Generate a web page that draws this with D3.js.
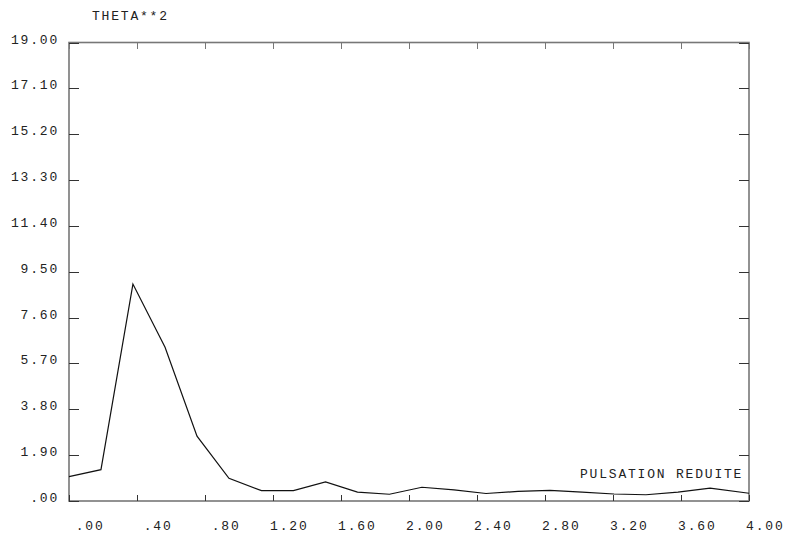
<!DOCTYPE html>
<html lang="en">
<head>
<meta charset="utf-8">
<script src="https://d3js.org/d3.v7.min.js"></script>
<style>
  body { margin: 0; background: #ffffff; }
  text { font-family: "Liberation Mono", "Courier New", monospace; font-size: 13px; letter-spacing: 1.8px; fill: #222; }
  .axis path, .axis line { fill: none; stroke: #777; shape-rendering: crispEdges; }
  .inner line { stroke: #333; }
</style>
</head>
<body>
<script>
// reduced pulsation (x) and THETA**2 (y)
var pulsation = [0, 0.188, 0.376, 0.565, 0.753, 0.941, 1.132, 1.320, 1.509, 1.697, 1.885,
                 2.076, 2.265, 2.453, 2.641, 2.829, 3.018, 3.206, 3.394, 3.582, 3.771, 4.0];
var theta2 = [1.01, 1.30, 8.99, 6.37, 2.69, 0.94, 0.43, 0.43, 0.79, 0.37, 0.28,
              0.57, 0.46, 0.31, 0.40, 0.44, 0.37, 0.29, 0.26, 0.37, 0.53, 0.32];
var xTicks = [0, 0.4, 0.8, 1.2, 1.6, 2.0, 2.4, 2.8, 3.2, 3.6, 4.0];
var yTicks = [0, 1.9, 3.8, 5.7, 7.6, 9.5, 11.4, 13.3, 15.2, 17.1, 19.0];
var yTitle = "THETA**2";
var xTitle = "PULSATION REDUITE";

var width = 786, height = 537;
var plot = {left: 69, right: 749, top: 42.5, bottom: 501};

var x = d3.scaleLinear().domain([0, 4]).range([plot.left, plot.right]);
var y = d3.scaleLinear().domain([0, 19]).range([plot.bottom, plot.top]);

var svg = d3.select("body").append("svg")
    .attr("width", width)
    .attr("height", height);

var fmt = function(v) { return d3.format(".2f")(v).replace(/^0\./, "."); };

// frame
svg.append("rect")
    .attr("x", plot.left).attr("y", plot.top)
    .attr("width", plot.right - plot.left).attr("height", plot.bottom - plot.top)
    .attr("fill", "none").attr("stroke", "#777").attr("stroke-width", 1.6);

// tick marks pointing inwards
svg.append("g").attr("class", "axis inner")
    .attr("transform", "translate(0," + plot.bottom + ")")
    .call(d3.axisBottom(x).tickValues(xTicks).tickSize(-6).tickFormat(""))
    .select(".domain").remove();
svg.append("g").attr("class", "axis")
    .attr("transform", "translate(0," + plot.top + ")")
    .call(d3.axisTop(x).tickValues(xTicks).tickSize(-6).tickFormat(""))
    .select(".domain").remove();
svg.append("g").attr("class", "axis inner")
    .attr("transform", "translate(" + plot.left + ",0)")
    .call(d3.axisLeft(y).tickValues(yTicks).tickSize(-10).tickFormat(""))
    .select(".domain").remove();
svg.append("g").attr("class", "axis inner")
    .attr("transform", "translate(" + plot.right + ",0)")
    .call(d3.axisRight(y).tickValues(yTicks).tickSize(-10).tickFormat(""))
    .select(".domain").remove();

// tick labels
svg.selectAll(".xlab").data(xTicks).enter().append("text")
    .attr("class", "xlab")
    .attr("x", function(d) { return x(d) + 35.5; })
    .attr("y", 530)
    .attr("text-anchor", "end")
    .text(fmt);
svg.selectAll(".ylab").data(yTicks).enter().append("text")
    .attr("class", "ylab")
    .attr("x", 59)
    .attr("y", function(d) { return y(d) + 1; })
    .attr("text-anchor", "end")
    .text(fmt);

// titles
svg.append("text").attr("x", 92).attr("y", 19.5).text(yTitle);
svg.append("text").attr("x", 580).attr("y", 478.3).text(xTitle);

// curve
var line = d3.line()
    .x(function(d, i) { return x(pulsation[i]); })
    .y(function(d) { return y(d); });
svg.append("path")
    .datum(theta2)
    .attr("d", line)
    .attr("fill", "none")
    .attr("stroke", "#111")
    .attr("stroke-width", 1.2);
</script>
</body>
</html>
